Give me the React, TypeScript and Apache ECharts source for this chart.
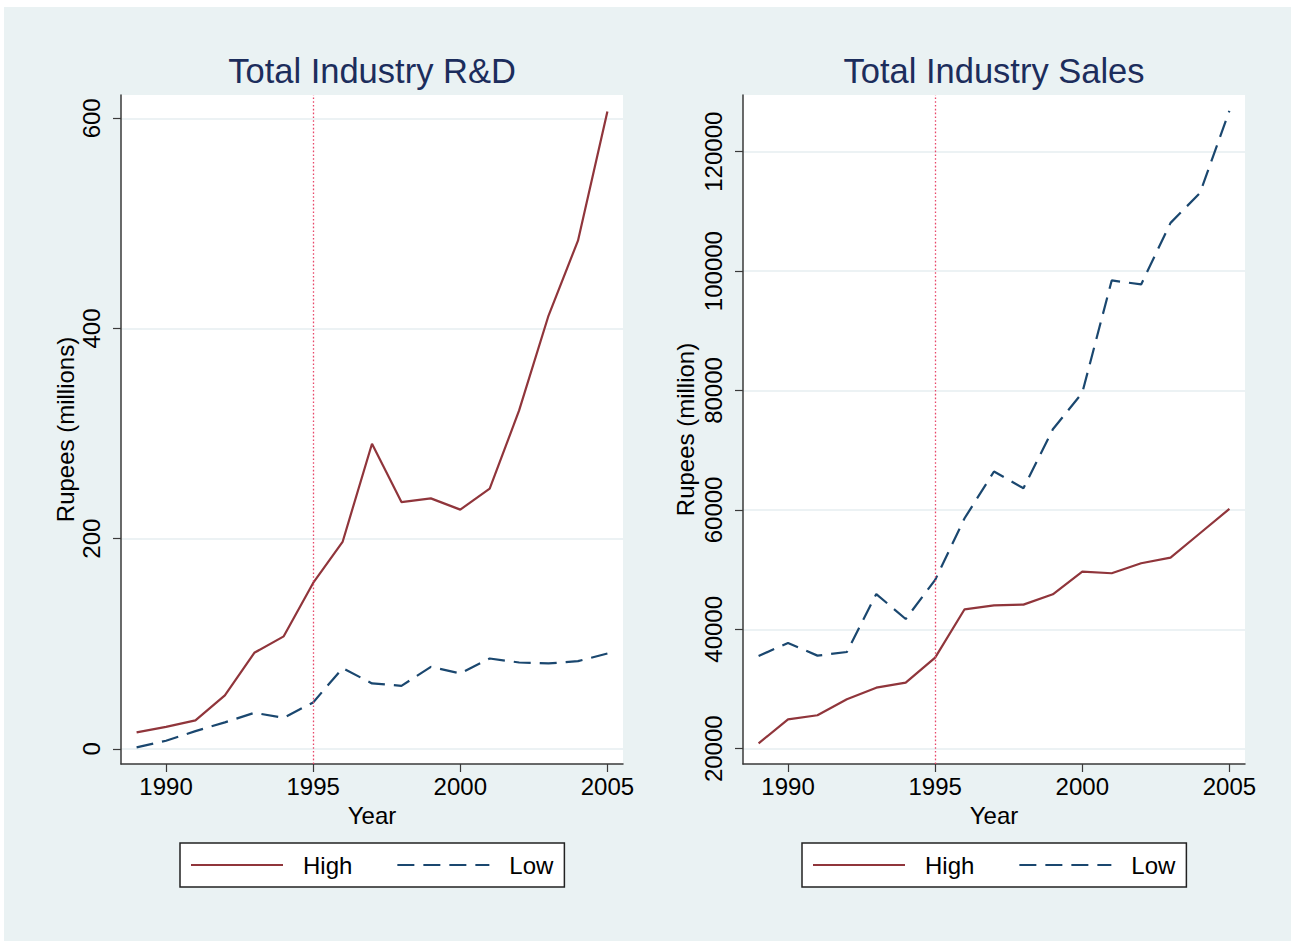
import React, { useEffect, useRef } from "react";
import * as echarts from "echarts";

const years = [1989, 1990, 1991, 1992, 1993, 1994, 1995, 1996, 1997, 1998, 1999, 2000, 2001, 2002, 2003, 2004, 2005];

const rdHigh = [15.6, 20.9, 27, 50.8, 91.3, 107, 157.8, 196.8, 290.3, 234.8, 238.3, 227.6, 247.5, 322, 412.3, 483.6, 606.5];
const rdLow = [1.3, 7.6, 16.8, 25.1, 34.2, 29.5, 44.1, 76.7, 62.2, 59.9, 77.9, 71.7, 85.9, 82.1, 81.2, 83.4, 90.7];

const salesHigh = [20900, 24900, 25600, 28270, 30220, 31060, 35250, 43350, 44020, 44130, 45870, 49670, 49390, 51060, 52010, 56090, 60170];
const salesLow = [35530, 37710, 35590, 36200, 45900, 41730, 48270, 58600, 66430, 63630, 73500, 79610, 98440, 97770, 108080, 113090, 126850];

const xTicks = [1990, 1995, 2000, 2005];
const rdTicks = [0, 200, 400, 600];
const salesTicks = [20000, 40000, 60000, 80000, 100000, 120000];

const titles = ["Total Industry R&D", "Total Industry Sales"];
const yNames = ["Rupees (millions)", "Rupees (million)"];
const seriesNames = ["High", "Low"];
const policyYear = 1995;

const FONT = "'Liberation Sans', Arial, Helvetica, sans-serif";
const HIGH_COLOR = "#90353b";
const LOW_COLOR = "#1a476f";
const BG = "#eaf2f3";
const FS = 24;

export default function App() {
  const ref = useRef<HTMLDivElement>(null);

  useEffect(() => {
    if (!ref.current) return;
    const chart = echarts.init(ref.current, null, { renderer: "svg" });

    const pair = (vals: number[]) => years.map((y, i) => [y, vals[i]]);
    const plain = (v: number) => String(v);

    const gridLefts = [117, 739];
    const yRanges = [
      { min: -14.5, max: 622.2, ticks: rdTicks },
      { min: 17437, max: 129497, ticks: salesTicks },
    ];
    const titleCenters = [363, 985];
    const legendLefts = [176, 798];

    const xAxes = [0, 1].map((i) => ({
      type: "value",
      gridIndex: i,
      min: 1988.47,
      max: 2005.53,
      name: "Year",
      nameLocation: "middle",
      nameGap: 39,
      nameTextStyle: { fontFamily: FONT, fontSize: FS, color: "#000" },
      axisLine: { show: true, onZero: false, lineStyle: { color: "#3a3a3a", width: 1.5 } },
      axisTick: { show: true, length: 8, customValues: xTicks, lineStyle: { color: "#3a3a3a", width: 1.2 } },
      axisLabel: { customValues: xTicks, formatter: plain, fontFamily: FONT, fontSize: FS, color: "#000", margin: 10 },
      splitLine: { show: false },
    }));

    const yAxes = [0, 1].map((i) => ({
      type: "value",
      gridIndex: i,
      min: yRanges[i].min,
      max: yRanges[i].max,
      name: yNames[i],
      nameLocation: "middle",
      nameGap: i === 0 ? 44 : 46,
      nameTextStyle: { fontFamily: FONT, fontSize: FS, color: "#000" },
      axisLine: { show: true, onZero: false, lineStyle: { color: "#3a3a3a", width: 1.5 } },
      axisTick: { show: true, length: 8, customValues: yRanges[i].ticks, lineStyle: { color: "#3a3a3a", width: 1.2 } },
      axisLabel: {
        customValues: yRanges[i].ticks,
        formatter: plain,
        rotate: 90,
        fontFamily: FONT,
        fontSize: FS,
        color: "#000",
        margin: 18,
      },
      splitLine: { show: true, lineStyle: { color: "#e6eef1", width: 1.5 } },
    }));

    const datasets = [
      [rdHigh, rdLow],
      [salesHigh, salesLow],
    ];

    const series: any[] = [];
    [0, 1].forEach((g) => {
      series.push({
        type: "line",
        name: seriesNames[0],
        xAxisIndex: g,
        yAxisIndex: g,
        data: pair(datasets[g][0]),
        showSymbol: false,
        symbol: "none",
        lineStyle: { color: HIGH_COLOR, width: 2.2 },
        itemStyle: { color: HIGH_COLOR },
        z: 3,
        markLine: {
          silent: true,
          symbol: ["none", "none"],
          label: { show: false },
          lineStyle: { color: "#e8486a", width: 1.3, type: [1.6, 2.2] },
          data: [{ xAxis: policyYear }],
        },
      });
      series.push({
        type: "line",
        name: seriesNames[1],
        xAxisIndex: g,
        yAxisIndex: g,
        data: pair(datasets[g][1]),
        showSymbol: false,
        symbol: "none",
        lineStyle: { color: LOW_COLOR, width: 2.2, type: [17, 9] },
        itemStyle: { color: LOW_COLOR },
        z: 3,
      });
    });

    const option = {
      animation: false,
      backgroundColor: BG,
      title: [0, 1].map((i) => ({
        text: titles[i],
        left: titleCenters[i],
        textAlign: "center",
        top: 41,
        textStyle: { fontFamily: FONT, fontSize: 34.5, fontWeight: "normal", color: "#1c2d5c" },
      })),
      grid: [0, 1].map((i) => ({
        left: gridLefts[i],
        top: 88,
        width: 502,
        height: 669,
        show: true,
        backgroundColor: "#ffffff",
        borderWidth: 0,
      })),
      legend: [0, 1].map((i) => ({
        left: legendLefts[i],
        top: 836,
        orient: "horizontal",
        data: seriesNames,
        itemWidth: 92,
        itemHeight: 14,
        itemGap: 44,
        padding: [10, 11, 10, 10],
        borderColor: "#222",
        borderWidth: 1.5,
        backgroundColor: "#ffffff",
        selectedMode: false,
        itemStyle: { opacity: 0 },
        lineStyle: { width: 2 },
        textStyle: {
          fontFamily: FONT,
          fontSize: FS,
          color: "#000",
          lineHeight: 24,
          padding: [0, 0, 0, 15],
        },
      })),
      xAxis: xAxes,
      yAxis: yAxes,
      series,
    };

    chart.setOption(option as any);
    return () => chart.dispose();
  }, []);

  return (
    <div
      ref={ref}
      style={{ position: "fixed", left: 4, top: 7, width: 1287, height: 934 }}
    />
  );
}
